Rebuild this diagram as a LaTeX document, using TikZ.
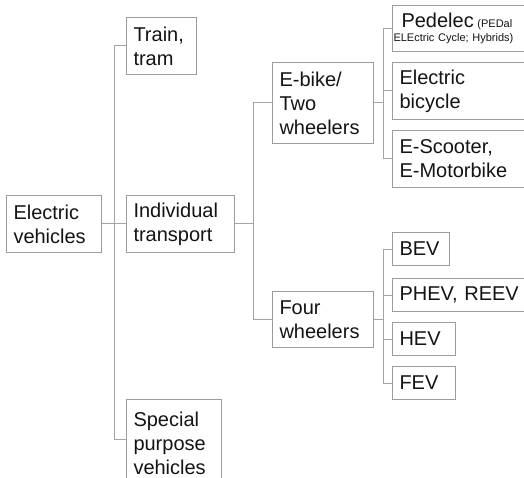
\documentclass[tikz,border=0pt]{standalone}
\usepackage{fontspec}
\setmainfont{Liberation Sans}
\usetikzlibrary{calc}
\definecolor{boxgray}{HTML}{9C9C9C}
\definecolor{linegray}{HTML}{A4A4A4}
\definecolor{txt}{HTML}{141414}
\begin{document}
\begin{tikzpicture}[x=1pt,y=-1pt,
  box/.style={draw=boxgray, line width=1pt, anchor=north west, inner xsep=7pt, inner ysep=0pt,
    font=\fontsize{20}{24}\selectfont, align=left, text=txt},
  conn/.style={draw=linegray, line width=1pt}]
\useasboundingbox (0,0) rectangle (524,478);
\fill[white] (0,0) rectangle (524,478);
\clip (0,0) rectangle (524,478);

\node[box, text width=56pt, minimum height=57pt] (train) at (126,17) {Train,\\tram};
\node[box, text width=81pt, minimum height=57pt] (ev) at (6,195) {Electric\\vehicles};
\node[box, text width=94pt, minimum height=57pt] (it) at (126,195) {Individual\\transport};
\node[box, text width=81pt, minimum height=87pt] (spv) at (126,399) {Special\\purpose\\vehicles};
\node[box, text width=87pt, minimum height=81pt] (eb) at (272,62) {E-bike/\\Two\\wheelers};
\node[box, text width=87pt, minimum height=56pt] (fw) at (272,291) {Four\\wheelers};
\node[box, text width=128pt, minimum height=46pt, font=\fontsize{11}{14}\selectfont] (ped) at (392,5)
  {\hspace*{2pt}{\fontsize{20}{24}\selectfont Pedelec} (PEDal\\\hspace*{-6pt}ELEctric Cycle; Hybrids)};
\node[box, text width=128pt, minimum height=57pt] (ebic) at (392,62) {Electric\\bicycle};
\node[box, text width=128pt, minimum height=57pt] (esc) at (392,130) {E-Scooter,\\E-Motorbike};
\node[box, text width=43pt, minimum height=33pt] (bev) at (392,232) {BEV};
\node[box, text width=128pt, minimum height=33pt] (phev) at (392,278) {PHEV, REEV};
\node[box, text width=49pt, minimum height=33pt] (hev) at (392,322) {HEV};
\node[box, text width=49pt, minimum height=33pt] (fev) at (392,366) {FEV};

\coordinate (bus1) at (114,0);
\coordinate (bus2) at (253,0);
\coordinate (bus3) at (383,0);
\coordinate (spvc) at ([yshift=-40pt]spv.north west);

\draw[conn] (ev.east) -- (it.west);
\draw[conn] (train.west) -- (train.west -| bus1) |- (spvc);

\draw[conn] (it.east) -- (it.east -| bus2);
\draw[conn] (eb.west) -- (eb.west -| bus2) |- (fw.west);

\draw[conn] (eb.east) -- (eb.east -| bus3);
\draw[conn] (ped.west) -- (ped.west -| bus3) |- (esc.west);
\draw[conn] (ebic.west) -- (ebic.west -| bus3);

\draw[conn] (fw.east) -- (fw.east -| bus3);
\draw[conn] (bev.west) -- (bev.west -| bus3) |- (fev.west);
\draw[conn] (phev.west) -- (phev.west -| bus3);
\draw[conn] (hev.west) -- (hev.west -| bus3);
\end{tikzpicture}
\end{document}
